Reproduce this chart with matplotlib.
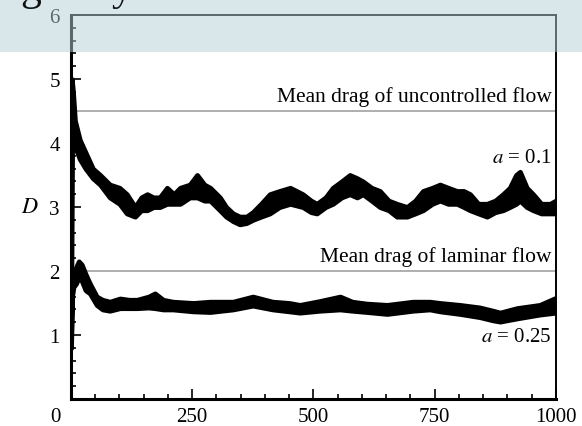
# -*- coding: utf-8 -*-
# Drag history D(t) for two control amplitudes, with the uncontrolled and laminar mean drag levels
import matplotlib.pyplot as plt
from matplotlib.patches import Rectangle
from matplotlib.ticker import MultipleLocator
import matplotlib.transforms as mtransforms

plt.rcParams['font.family'] = ['Liberation Serif', 'DejaVu Serif']
plt.rcParams['mathtext.fontset'] = 'stix'

# a = 0.1 : time and lower / upper envelope of the oscillating drag
t_a1 = [0, 1.5, 4, 8, 18, 30, 45, 60, 80, 100, 115, 132, 145, 157, 170, 183, 198, 212, 225, 245,
        260, 275, 287, 307, 320, 334, 348, 362, 375, 392, 410, 430, 452, 478, 495, 507, 525, 540,
        558, 575, 590, 602, 620, 637, 655, 672, 693, 710, 726, 745, 761, 778, 796, 810, 823, 840,
        858, 875, 891, 905, 918, 926, 940, 953, 970, 988, 1000]
lo_a1 = [0.8, 4.7, 4.2, 3.95, 3.75, 3.6, 3.45, 3.35, 3.15, 3.05, 2.9, 2.85, 2.95, 2.95, 3.0, 3.0,
         3.05, 3.05, 3.05, 3.15, 3.15, 3.1, 3.1, 2.95, 2.85, 2.78, 2.73, 2.75, 2.8, 2.85, 2.9, 3.0,
         3.05, 3.0, 2.92, 2.9, 3.0, 3.05, 3.15, 3.2, 3.15, 3.2, 3.1, 3.0, 2.95, 2.85, 2.85, 2.9,
         2.95, 3.05, 3.1, 3.05, 3.05, 3.0, 2.95, 2.9, 2.85, 2.92, 2.95, 3.0, 3.05, 3.1, 3.0, 2.95,
         2.9, 2.9, 2.9]
hi_a1 = [0.9, 5.0, 4.8, 4.35, 4.05, 3.85, 3.6, 3.5, 3.35, 3.3, 3.2, 3.0, 3.15, 3.2, 3.15, 3.15,
         3.3, 3.2, 3.3, 3.35, 3.5, 3.35, 3.3, 3.15, 3.0, 2.9, 2.85, 2.85, 2.92, 3.05, 3.2, 3.25,
         3.3, 3.2, 3.1, 3.05, 3.15, 3.3, 3.4, 3.5, 3.45, 3.4, 3.3, 3.25, 3.1, 3.05, 3.0, 3.1,
         3.25, 3.3, 3.35, 3.3, 3.25, 3.25, 3.2, 3.05, 3.05, 3.1, 3.2, 3.3, 3.5, 3.55, 3.3, 3.2,
         3.05, 3.05, 3.1]

# a = 0.25
t_a2 = [0, 2, 5, 10, 16, 22, 30, 39, 53, 65, 80, 101, 120, 136, 160, 173, 190, 210, 252, 287,
        310, 334, 375, 416, 450, 472, 513, 555, 580, 610, 652, 705, 740, 761, 802, 843, 870, 885,
        920, 967, 1000]
lo_a2 = [0.8, 1.6, 1.75, 1.8, 1.9, 1.85, 1.7, 1.65, 1.47, 1.4, 1.38, 1.42, 1.42, 1.42, 1.43, 1.42,
         1.4, 1.4, 1.37, 1.36, 1.38, 1.4, 1.46, 1.4, 1.37, 1.35, 1.38, 1.4, 1.38, 1.36, 1.33, 1.38,
         1.4, 1.37, 1.33, 1.28, 1.23, 1.21, 1.26, 1.32, 1.35]
hi_a2 = [0.9, 2.0, 2.0, 2.05, 2.15, 2.1, 1.95, 1.8, 1.6, 1.55, 1.52, 1.57, 1.55, 1.55, 1.6, 1.65,
         1.55, 1.52, 1.5, 1.52, 1.52, 1.52, 1.6, 1.52, 1.5, 1.47, 1.53, 1.6, 1.52, 1.49, 1.47, 1.52,
         1.52, 1.5, 1.47, 1.43, 1.38, 1.35, 1.42, 1.47, 1.58]

D_uncontrolled = 4.5
D_laminar = 2.0

fig = plt.figure(figsize=(5.82, 4.27), dpi=100)
ax = fig.add_axes([0.122, 0.0632, 0.833, 0.8993])

ax.axhline(D_uncontrolled, color='#a8a8a8', lw=1.3, zorder=1)
ax.axhline(D_laminar, color='#a8a8a8', lw=1.3, zorder=1)

ax.fill_between(t_a1, lo_a1, hi_a1, color='black', lw=3.5, edgecolor='black', zorder=3)
ax.fill_between(t_a2, lo_a2, hi_a2, color='black', lw=3.5, edgecolor='black', zorder=3)

ax.set_xlim(0, 1000)
ax.set_ylim(0, 6)
ax.xaxis.set_major_locator(MultipleLocator(250))
ax.xaxis.set_minor_locator(MultipleLocator(50))
ax.yaxis.set_major_locator(MultipleLocator(1))
ax.yaxis.set_minor_locator(MultipleLocator(0.2))
ax.tick_params(which='both', direction='in', top=False, right=False, labelsize=15, width=1.2)
ax.tick_params(which='major', length=7)
ax.tick_params(which='minor', length=3.5)
ax.tick_params(axis='x', pad=6)
ax.tick_params(axis='y', pad=8)

# origin label sits at the corner, drawn separately
ax.set_yticks([1, 2, 3, 4, 5, 6])
ax.set_xticks([0, 250, 500, 750, 1000])
ax.set_xticklabels(['', '250', '500', '750', '1000'])
corner = mtransforms.offset_copy(ax.transAxes, fig=fig, x=-16, y=-17, units='dots')
ax.text(0, 0, '0', transform=corner, fontsize=15, ha='center', va='center')

for side in ['left', 'bottom']:
    ax.spines[side].set_linewidth(2.2)
for side in ['top', 'right']:
    ax.spines[side].set_linewidth(1.4)

ax.set_ylabel('$D$', rotation=0, fontsize=16, labelpad=14, va='center')
ax.yaxis.set_label_coords(-0.085, 0.5)

ax.text(992, D_uncontrolled + 0.08, 'Mean drag of uncontrolled flow', fontsize=15.5,
        ha='right', va='bottom')
ax.text(992, D_laminar + 0.08, 'Mean drag of laminar flow', fontsize=15.5, ha='right', va='bottom')
ax.text(992, 3.78, '$a$ = 0.1', fontsize=15, ha='right', va='center')
ax.text(992, 0.97, '$a$ = 0.25', fontsize=15, ha='right', va='center')

# slide header band across the top
fig.patches.append(Rectangle((0, 1 - 53 / 427), 1, 53 / 427, transform=fig.transFigure,
                             facecolor='#b5d0d9', alpha=0.5, zorder=10, lw=0))
fig.text(20 / 582, 1.0, 'g', fontsize=30, va='baseline', ha='left', zorder=11, color='#111111')
fig.text(112 / 582, 1.0, 'y', fontsize=30, va='baseline', ha='left', zorder=11, color='#111111')

plt.savefig('out.png', dpi=100)
